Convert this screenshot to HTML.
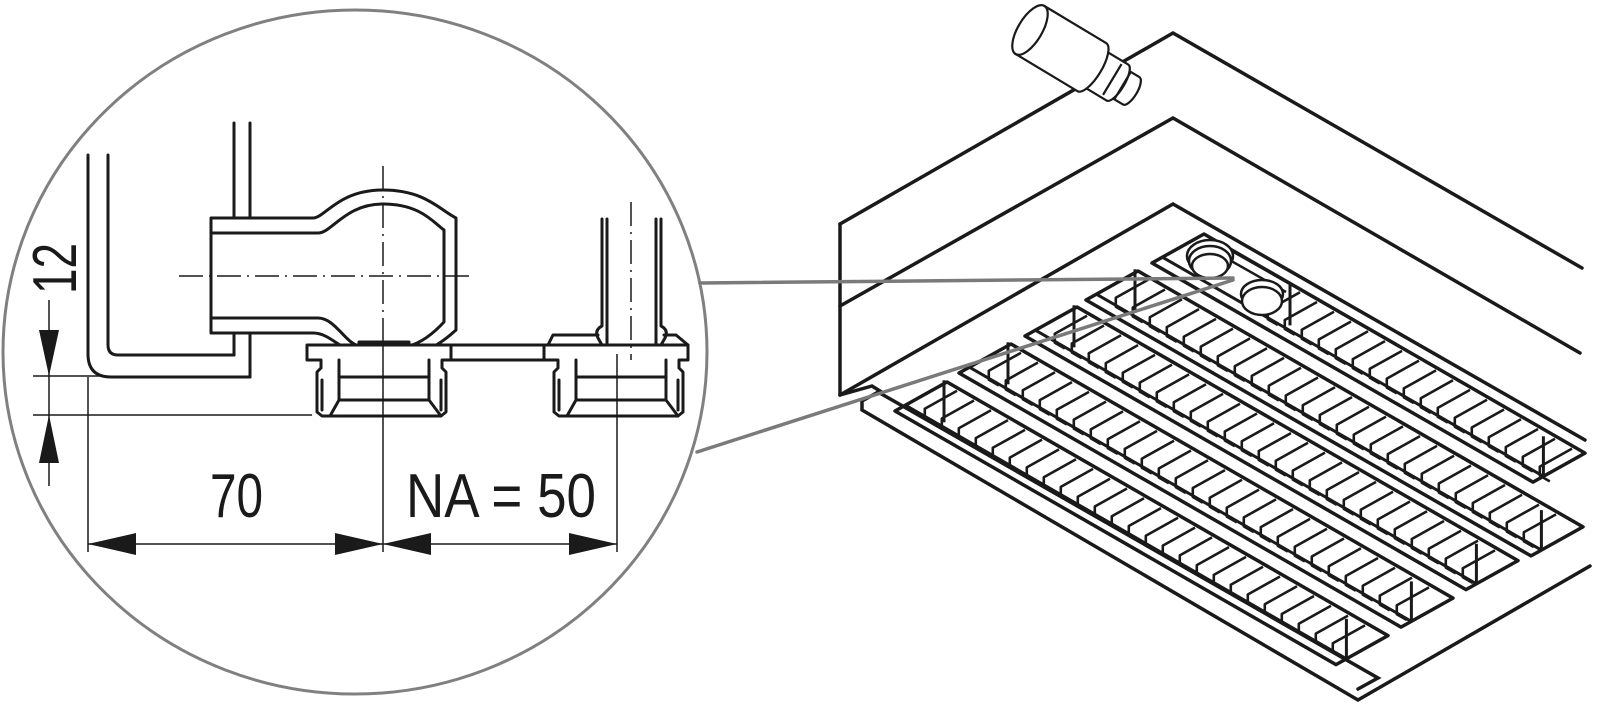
<!DOCTYPE html>
<html><head><meta charset="utf-8">
<style>
html,body{margin:0;padding:0;background:#fff;}
svg{display:block;}
text{font-family:"Liberation Sans Narrow","Liberation Sans",sans-serif;fill:#1a1a1a;}
</style></head>
<body>
<svg id="s" width="1600" height="712" viewBox="0 0 1600 712" xmlns="http://www.w3.org/2000/svg">
<g fill="none" stroke="#1a1a1a" stroke-width="3" stroke-linejoin="round" stroke-linecap="round">
  <path d="M88,155 V354 Q88,377 111,377 H250"/>
  <path d="M108,155 V345 Q108,355 118,355 H234"/>
  <path d="M234,123 V218 M250,123 V218 M234,333 V355 M250,333 V377"/>
  <path d="M211,218 H313 C325,218 338,190 383,190 C425,190 440,210 456,218 V330 C445,340 430,352 409,354 H359 C340,350 330,333 313,333 H211 Z" fill="#fff"/>
  <path d="M211,233 H318 C332,233 345,204 383,204 C420,204 433,222 444,230 V322 C432,335 420,343 409,346 M359,346 C345,343 335,318 318,318 H211"/>
  <rect x="359" y="342" width="50" height="15" fill="#fff"/>
  <path d="M307,345 H451 V360 H442 V368 L446,372 V412 L441,416 H322 L317,412 V372 L321,368 V360 H307 Z" fill="#fff"/>
  <path d="M339,360 V400 M429,360 V400 M339,377 H429 M339,400 H429 M330,416 L339,400 M441,416 L429,400 M322,380 V410 M441,380 V410"/>
  <path d="M451,345 H548 M451,360 H548"/>
  <path d="M544,345 H688 V360 H679 V368 L683,372 V412 L678,416 H559 L554,412 V372 L558,368 V360 H544 Z" fill="#fff"/>
  <path d="M576,360 V400 M666,360 V400 M576,377 H666 M576,400 H666 M567,416 L576,400 M678,416 L666,400 M559,380 V410 M678,380 V410"/>
  <path d="M548,345 L553,335 H598 M664,335 H676 L688,345"/>
  <path d="M602,219 V326 Q594,330 598,338 L602,345 M607,219 V345 M656,219 V345 M661,219 V326 Q669,330 665,338 L661,345"/>
</g>
<g stroke="#1a1a1a" stroke-width="1.5" fill="none">
  <path d="M179,276 H471" stroke-dasharray="24,6,2,6"/>
  <path d="M383,166 V340" stroke-dasharray="24,6,2,6"/>
  <path d="M631,202 V360" stroke-dasharray="24,6,2,6"/>
  <path d="M383,340 V552 M617,354 V552 M88,377 V552"/>
  <path d="M88,544 H617"/>
  <path d="M33,376 H100 M33,415 H312 M49,300 V486"/>
</g>
<g fill="#1a1a1a">
  <polygon points="88,544 136,533 136,555"/>
  <polygon points="383,544 335,533 335,555"/>
  <polygon points="383,544 431,533 431,555"/>
  <polygon points="617,544 569,533 569,555"/>
  <polygon points="49,376 39,330 59,330"/>
  <polygon points="49,415 39,463 59,463"/>
</g>
<text x="210" y="517" font-size="62" textLength="53" lengthAdjust="spacingAndGlyphs">70</text>
<text x="406" y="517" font-size="62" textLength="190" lengthAdjust="spacingAndGlyphs">NA = 50</text>
<text transform="translate(76,294) rotate(-90)" font-size="62" textLength="51" lengthAdjust="spacingAndGlyphs">12</text>
<ellipse cx="355" cy="352" rx="352" ry="342" fill="none" stroke="#808080" stroke-width="3"/>
<g id="right" fill="none" stroke="#1a1a1a" stroke-width="3.5" stroke-linejoin="miter" stroke-linecap="round">
  <path d="M840,224 L1173,33 L1582,268"/>
  <path d="M840,306 L1173,118 L1580,353"/>
  <path d="M840,224 V395"/>
  <path d="M840,395 L1173,204 L1585,440"/>
  <path d="M840,395 L872,386 L880,391 L862,401 V410 L1358,700 L1590,566"/>
  <path d="M878,392 L1378,678 L1358,689"/>
</g>
<g id="fins" fill="none" stroke="#1a1a1a" stroke-width="2.4" stroke-linejoin="round"></g>
<g fill="#fff" stroke="#1a1a1a" stroke-width="2.5">
  <path d="M1230,250 L1290,284 M1226,258 L1286,292" fill="none"/>
  <ellipse cx="1210" cy="256" rx="23" ry="16"/>
  <ellipse cx="1210" cy="261" rx="21" ry="15"/>
  <ellipse cx="1210" cy="266" rx="18" ry="12"/>
  <ellipse cx="1262" cy="294" rx="21" ry="14"/>
  <ellipse cx="1262" cy="301" rx="20" ry="14"/>
</g>
<g stroke="#7a7a7a" stroke-width="3.5" fill="none" stroke-linecap="round">
  <path d="M700,283 L1233,278"/>
  <path d="M697,452 L1233,280"/>
</g>
<g transform="translate(1030,30) rotate(31)" fill="#fff" stroke="#1a1a1a" stroke-width="2.2">
  <path d="M100,-16 H118 A6,16 0 0 1 118,16 H100 Z"/>
  <path d="M70,-21 H102 A7,21 0 0 1 102,21 H70 Z"/>
  <path d="M0,-28 H72 A10,28 0 0 1 72,28 H0 Z"/>
  <ellipse cx="0" cy="0" rx="12" ry="28"/>
  <path d="M96,-18 V18 M108,-16 V16" fill="none"/>
</g>
</svg>
<script>
(function(){
  var g=document.getElementById('fins');
  var NS='http://www.w3.org/2000/svg';
  var W=[-52,29], k=0.575;
  function add(d,sw){var p=document.createElementNS(NS,'path');p.setAttribute('d',d);if(sw)p.setAttribute('stroke-width',sw);g.appendChild(p);}
  function f(n){return n.toFixed(1);}
  var rails=[[1204,234,1585,1290],[1138,271,1583,0],[1077,307,1518,0],[1011,344,1453,0],[947,382,1388,0]];
  rails.forEach(function(r){
    var px=r[0],py=r[1],qx=r[2],qy=py+(qx-px)*k;
    var d='M'+f(px)+','+f(py)+' L'+f(qx)+','+f(qy)+' L'+f(qx+W[0])+','+f(qy+W[1])+' L'+f(px+W[0])+','+f(py+W[1])+' Z';
    add(d,3.5);
    // inner band line
    var b=0.8;
    add('M'+f(px+b*W[0])+','+f(py+b*W[1])+' L'+f(qx+b*W[0])+','+f(qy+b*W[1]),3);
    var wx=r[3]?r[3]:px-3, wy=py+(wx-px)*k;
    add('M'+f(wx)+','+f(wy)+' V'+f(wy+42),3);
    var ex=qx+b*W[0], ey=qy+b*W[1];
    add('M'+f(ex)+','+f(ey)+' V'+f(ey-40),3);
    var start=(r[3]?r[3]:px)+10, end=qx-12;
    var dd='';
    for(var x=start;x<=end;x+=17){
      var y=py+(x-px)*k;
      var sx=x, sy=y+3;
      var exx=sx+0.62*W[0], eyy=sy+0.62*W[1];
      dd+='M'+f(sx)+','+f(sy)+' L'+f(exx)+','+f(eyy)+' l0,9 l10,5.75 ';
    }
    add(dd,2.6);
  });
})();
</script>
</body></html>
